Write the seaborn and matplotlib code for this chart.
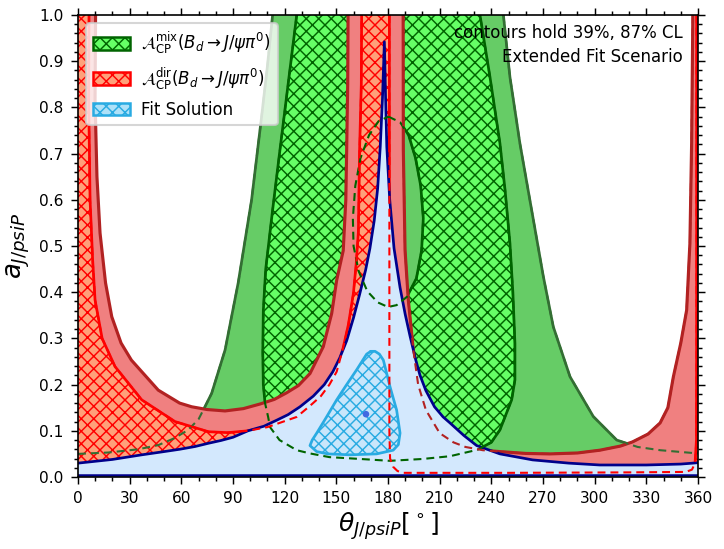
import numpy as np
import matplotlib
matplotlib.use("Agg")
import matplotlib.pyplot as plt
from matplotlib.patches import Patch
import seaborn as sns

# ── boundaries (theta in deg, a) ──────────────────────────────────────────────
# green, mixing asymmetry: 87% region = all but the two "ears"
ear_left_theta  = [0, 17.6, 35, 46.6, 56, 64, 70, 73.7, 77.6, 85.4, 93, 100.8, 106.6, 110, 113]
ear_left_a      = [0.050, 0.053, 0.060, 0.069, 0.084, 0.102, 0.125, 0.152, 0.181, 0.275, 0.42, 0.60, 0.78, 0.89, 1.0]
ear_right_theta = [247, 250.8, 256.6, 263.4, 270.2, 276, 285.7, 299.2, 312.8, 325, 338, 360]
ear_right_a     = [1.0, 0.866, 0.722, 0.578, 0.434, 0.325, 0.217, 0.131, 0.080, 0.065, 0.058, 0.051]

# green 39% region: a cup with a hole
cup_theta = [127, 122, 117, 113, 109, 107.6, 107.3, 107.6, 108.6, 110.4, 111.5, 117, 127, 134.7,
             146, 164, 181, 200, 216, 232, 240, 245, 251.8, 253.7, 253.7, 252.5, 250.8, 248,
             245, 239.2, 233.4]
cup_a     = [1.0, 0.85, 0.70, 0.578, 0.45, 0.36, 0.27, 0.20, 0.16, 0.13, 0.108, 0.080, 0.058, 0.051,
             0.043, 0.039, 0.035, 0.039, 0.045, 0.059, 0.075, 0.102, 0.167, 0.21, 0.289, 0.40, 0.506, 0.62,
             0.722, 0.866, 1.0]
hole_theta = [180.2, 187, 192, 196, 199, 200.5, 199.5, 196.5, 191, 185, 180, 174, 168, 163, 160,
              159.6, 161, 164, 169, 174.5, 180.2]
hole_a     = [0.780, 0.768, 0.740, 0.690, 0.630, 0.560, 0.490, 0.430, 0.390, 0.372, 0.368, 0.378,
              0.402, 0.445, 0.50, 0.56, 0.63, 0.69, 0.74, 0.770, 0.780]

# red, direct asymmetry: 87% region (outer edges)
dir87_l_theta = [10.2, 9.9, 11.0, 12.8, 16, 19.6, 25, 31, 46.6, 59, 66, 75, 85.4, 96, 105.7, 114,
                 121, 128, 134.7, 142.4, 147.3, 150.2, 154, 155.5, 156, 156.6, 156.8]
dir87_l_a     = [1.0, 0.816, 0.65, 0.528, 0.42, 0.347, 0.29, 0.253, 0.188, 0.160, 0.152, 0.146, 0.143,
                 0.148, 0.158, 0.168, 0.182, 0.198, 0.224, 0.282, 0.354, 0.426, 0.49, 0.60, 0.708, 0.85, 1.0]
dir87_r_theta = [188.8, 188.9, 189.9, 191.8, 194.7, 197.5, 202, 210, 218, 225, 235, 245, 260, 274,
                 290, 303, 315, 322, 331, 338, 342.5, 345.7, 350, 353.4, 355.3, 356.3, 357]
dir87_r_a     = [1.0, 0.708, 0.491, 0.383, 0.275, 0.20, 0.145, 0.095, 0.075, 0.065, 0.058, 0.055, 0.051,
                 0.050, 0.052, 0.058, 0.067, 0.076, 0.093, 0.117, 0.15, 0.217, 0.29, 0.361, 0.506, 0.723, 1.0]

# red 39% region
dir39_l_theta = [6.4, 6.2, 7, 8.5, 9.9, 14, 21.5, 37, 56.3, 75.7, 87, 98.7, 110, 117, 127, 135, 141,
                 146, 150.2, 154, 157, 159.9, 161.5, 162.8, 163.5, 164.5, 164.7]
dir39_l_a     = [1.0, 0.816, 0.6, 0.47, 0.383, 0.30, 0.239, 0.167, 0.120, 0.098, 0.096, 0.100, 0.108,
                 0.117, 0.13, 0.155, 0.175, 0.20, 0.228, 0.28, 0.33, 0.397, 0.46, 0.53, 0.708, 0.85, 1.0]
dir39_r_theta = [180.8, 180.8, 180.8, 181.2, 183, 185.5, 188.7, 250, 320, 353, 356.5, 358.3, 359.1,
                 359.2, 359.2]
dir39_r_a     = [1.0, 0.5, 0.1, 0.04, 0.022, 0.013, 0.009, 0.009, 0.010, 0.011, 0.016, 0.03, 0.08,
                 0.3, 1.0]

# fit solution: 87% (big spike) and 39% (small island), best fit point
fit87_theta = [0, 20, 37, 50, 59, 68, 75.7, 83, 90, 98.7, 108, 115.4, 122, 128.9, 136.6, 143, 148,
               152, 156, 160, 163.5, 167, 169.5, 172, 174, 175.5, 176.8, 177.9, 178.6, 179.3, 181,
               183.5, 187, 190, 192.8, 196, 198.6, 202, 207, 212, 216, 224, 231.5, 245, 264, 285,
               303, 330, 350, 357, 360]
fit87_a     = [0.030, 0.038, 0.048, 0.055, 0.060, 0.066, 0.073, 0.079, 0.086, 0.100, 0.110, 0.123,
               0.135, 0.152, 0.175, 0.200, 0.228, 0.258, 0.295, 0.345, 0.395, 0.448, 0.495, 0.555,
               0.625, 0.715, 0.820, 0.942, 0.820, 0.715, 0.600, 0.495, 0.410, 0.352, 0.305, 0.255,
               0.220, 0.187, 0.152, 0.130, 0.117, 0.090, 0.068, 0.050, 0.037, 0.030, 0.026, 0.026,
               0.028, 0.030, 0.031]
fit39_theta = [170, 172.5, 175, 177.3, 181.2, 185, 187, 186, 183, 173.4, 158, 145, 138.6, 134.7, 136,
               138.6, 144, 150.2, 156, 161.8, 167.6, 170]
fit39_a     = [0.272, 0.272, 0.266, 0.253, 0.195, 0.145, 0.095, 0.070, 0.058, 0.050, 0.048, 0.050,
               0.055, 0.068, 0.080, 0.095, 0.128, 0.167, 0.20, 0.232, 0.266, 0.272]
best_theta = [167.2]
best_a     = [0.136]

labels = [r"$\mathcal{A}_{\rm CP}^{\rm mix}(B_d\to J/\psi\pi^0)$",
          r"$\mathcal{A}_{\rm CP}^{\rm dir}(B_d\to J/\psi\pi^0)$",
          "Fit Solution"]
note_lines = ["contours hold 39%, 87% CL", "Extended Fit Scenario"]

# ── colours ───────────────────────────────────────────────────────────────────
C_G87, C_G87_EDGE = "#66cc66", "#336e33"
C_G39, C_G39_EDGE = "#66ff66", "#006400"
C_R87, C_R87_EDGE = "#f08080", "#b22222"
C_R39, C_R39_EDGE = "#ffa07a", "#ff0000"
C_B87, C_B87_EDGE = "#d3e8fd", "#00008b"
C_B39, C_B39_EDGE = "#c8e6fb", "#29abe2"
HATCH = "xxxx"

sns.set_style("ticks")
plt.rcParams["font.family"] = ["DejaVu Sans"]
plt.rcParams["hatch.linewidth"] = 0.7
plt.rcParams["mathtext.fontset"] = "dejavusans"
for k in ["text.color", "axes.labelcolor", "xtick.color", "ytick.color", "axes.edgecolor"]:
    plt.rcParams[k] = "black"

fig = plt.figure(figsize=(724 / 150, 549 / 150), dpi=150)
ax = fig.add_axes([78 / 724, 1 - 477 / 549, 620 / 724, 462 / 549])

DASH = dict(linestyle=(0, (3.8, 2.4)), linewidth=1.0)


def line(x, y, **kw):
    sns.lineplot(x=x, y=y, sort=False, estimator=None, ax=ax, legend=False, **kw)


# green 87%
ax.fill([0] + ear_left_theta + ear_right_theta + [360],
        [0] + ear_left_a + ear_right_a + [0], color=C_G87, lw=0, zorder=1)
line(ear_left_theta, ear_left_a, color=C_G87_EDGE, linewidth=1.3, zorder=2)
line(ear_right_theta, ear_right_a, color=C_G87_EDGE, linewidth=1.3, zorder=2)

# green 39%
ax.fill(cup_theta, cup_a, facecolor=C_G39, edgecolor=C_G39_EDGE, hatch=HATCH, lw=0, zorder=3)
line(cup_theta, cup_a, color=C_G39_EDGE, linewidth=1.3, zorder=4)
ax.fill(hole_theta, hole_a, color=C_G87, lw=0, zorder=4)
line(hole_theta, hole_a, color=C_G39_EDGE, linewidth=1.3, zorder=4)

# red 87%
ax.fill([0] + dir87_l_theta + dir87_r_theta + [360, 360, 0],
        [1] + dir87_l_a + dir87_r_a + [1, 0, 0], color=C_R87, lw=0, zorder=5)
line(dir87_l_theta, dir87_l_a, color=C_R87_EDGE, linewidth=1.5, zorder=6)
line(dir87_r_theta, dir87_r_a, color=C_R87_EDGE, linewidth=1.5, zorder=6)

# red 39%
ax.fill([0] + dir39_l_theta + dir39_r_theta + [360, 360, 0],
        [1] + dir39_l_a + dir39_r_a + [1, 0, 0],
        facecolor=C_R39, edgecolor=C_R39_EDGE, hatch=HATCH, lw=0, zorder=7)
line(dir39_l_theta, dir39_l_a, color=C_R39_EDGE, linewidth=1.3, zorder=8)
line(dir39_r_theta, dir39_r_a, color=C_R39_EDGE, linewidth=1.3, zorder=8)

# fit 87%
ax.fill(fit87_theta + [360, 0], fit87_a + [0, 0], color=C_B87, lw=0, zorder=9)
line(fit87_theta, fit87_a, color=C_B87_EDGE, linewidth=1.3, zorder=10)
line([0, 360], [0.004, 0.004], color=C_B87_EDGE, linewidth=1.2, zorder=10)

# fit 39%
ax.fill(fit39_theta, fit39_a, facecolor=C_B39, edgecolor=C_B39_EDGE, hatch=HATCH, lw=0, zorder=11)
line(fit39_theta, fit39_a, color=C_B39_EDGE, linewidth=1.3, zorder=12)

# hidden boundaries drawn dashed on top
for xs, ys, c in [(ear_left_theta, ear_left_a, C_G87_EDGE),
                  (ear_right_theta, ear_right_a, C_G87_EDGE),
                  (cup_theta, cup_a, C_G39_EDGE),
                  (hole_theta, hole_a, C_G39_EDGE),
                  (dir87_r_theta, dir87_r_a, C_R87_EDGE),
                  (dir39_l_theta, dir39_l_a, C_R39_EDGE),
                  (dir39_r_theta, dir39_r_a, C_R39_EDGE)]:
    ax.plot(xs, ys, color=c, zorder=13, **DASH)

sns.scatterplot(x=best_theta, y=best_a, color="#4169e1", s=10, edgecolor="none", ax=ax, zorder=14)

# ── axes ──────────────────────────────────────────────────────────────────────
ax.set_xlim(0, 360)
ax.set_ylim(0, 1)
ax.set_xticks(np.arange(0, 361, 30))
ax.set_xticks(np.arange(0, 361, 10), minor=True)
ax.set_yticks(np.round(np.arange(0, 1.01, 0.1), 1))
ax.set_yticks(np.arange(0, 1.001, 0.02), minor=True)
ax.tick_params(which="both", top=True, right=True, direction="out", labelsize=7.4, width=0.7)
ax.tick_params(which="major", length=3.4)
ax.tick_params(which="minor", length=1.9)
for s in ax.spines.values():
    s.set_linewidth(0.8)
    s.set_zorder(20)

ax.set_xlabel(r"$\theta_{J/psiP}[^\circ]$", fontsize=12, labelpad=2)
ax.set_ylabel(r"$a_{J/psiP}$", fontsize=12.5)
ax.yaxis.set_label_coords(-0.074, 0.5)

ax.text(0.975, 0.961, note_lines[0], transform=ax.transAxes, ha="right", va="center",
        fontsize=8.0, zorder=21)
ax.text(0.975, 0.909, note_lines[1], transform=ax.transAxes, ha="right", va="center",
        fontsize=8.0, zorder=21)

handles = [Patch(facecolor=C_G39, edgecolor=C_G39_EDGE, hatch=HATCH, linewidth=1.2),
           Patch(facecolor=C_R39, edgecolor=C_R39_EDGE, hatch=HATCH, linewidth=1.2),
           Patch(facecolor="#aee1f8", edgecolor=C_B39_EDGE, hatch=HATCH, linewidth=1.2)]
leg = ax.legend(handles, labels, loc="upper left", fontsize=8.0, framealpha=0.8,
                handlelength=2.2, handleheight=0.8, labelspacing=0.55, handletextpad=0.7)
leg.set_zorder(22)

fig.savefig("out.png", dpi=150)
